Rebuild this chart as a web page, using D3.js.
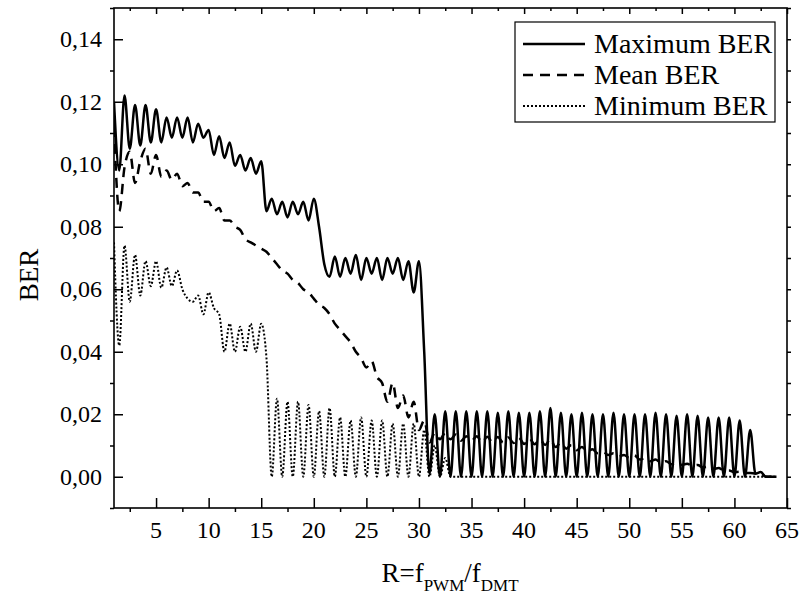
<!DOCTYPE html>
<html>
<head>
<meta charset="utf-8">
<script src="https://cdn.jsdelivr.net/npm/d3@7/dist/d3.min.js"></script>
<style>
  body { margin: 0; background: #fff; }
  svg { display: block; font-family: "Liberation Serif", "Times New Roman", serif; }
</style>
</head>
<body>
<svg id="chart" width="805" height="597"></svg>
<script>
// R = fPWM / fDMT, sampled every half step
var rValues = [
  1, 1.5, 2, 2.5, 3, 3.5, 4, 4.5, 5, 5.5, 6, 6.5, 7, 7.5, 8, 8.5, 9, 9.5, 10, 10.5,
  11, 11.5, 12, 12.5, 13, 13.5, 14, 14.5, 15, 15.5, 16, 16.5, 17, 17.5, 18, 18.5, 19, 19.5, 20, 20.5,
  21, 21.5, 22, 22.5, 23, 23.5, 24, 24.5, 25, 25.5, 26, 26.5, 27, 27.5, 28, 28.5, 29, 29.5, 30, 30.5,
  31, 31.5, 32, 32.5, 33, 33.5, 34, 34.5, 35, 35.5, 36, 36.5, 37, 37.5, 38, 38.5, 39, 39.5, 40, 40.5,
  41, 41.5, 42, 42.5, 43, 43.5, 44, 44.5, 45, 45.5, 46, 46.5, 47, 47.5, 48, 48.5, 49, 49.5, 50, 50.5,
  51, 51.5, 52, 52.5, 53, 53.5, 54, 54.5, 55, 55.5, 56, 56.5, 57, 57.5, 58, 58.5, 59, 59.5, 60, 60.5,
  61, 61.5, 62, 62.5, 63, 63.5, 64
];

var maxBer = [
  0.120, 0.098, 0.122, 0.105, 0.119, 0.106, 0.119, 0.107, 0.1176, 0.107, 0.115, 0.1085, 0.115, 0.1085, 0.115, 0.107, 0.113, 0.1085, 0.111, 0.103,
  0.109, 0.102, 0.107, 0.0995, 0.103, 0.098, 0.102, 0.097, 0.101, 0.085, 0.089, 0.084, 0.088, 0.083, 0.088, 0.084, 0.088, 0.082, 0.089, 0.080,
  0.068, 0.064, 0.0705, 0.064, 0.070, 0.065, 0.071, 0.063, 0.070, 0.065, 0.070, 0.063, 0.070, 0.065, 0.070, 0.063, 0.069, 0.059, 0.069, 0.040,
  0.001, 0.020, 0.0, 0.021, 0.0, 0.021, 0.0, 0.021, 0.0, 0.021, 0.0, 0.021, 0.0, 0.0205, 0.0, 0.021, 0.0, 0.0205, 0.0, 0.0205,
  0.0, 0.021, 0.0, 0.022, 0.0, 0.0205, 0.0, 0.020, 0.0, 0.0205, 0.0, 0.020, 0.0, 0.020, 0.0, 0.0205, 0.0, 0.020, 0.0, 0.020,
  0.0, 0.020, 0.0, 0.0205, 0.0, 0.020, 0.0, 0.0195, 0.0, 0.020, 0.0, 0.0195, 0.0, 0.019, 0.0, 0.019, 0.0, 0.019, 0.0, 0.018,
  0.0, 0.015, 0.001, 0.0015, 0.0, 0.0, 0.0
];

var meanBer = [
  0.112, 0.085, 0.099, 0.104, 0.094, 0.101, 0.105, 0.097, 0.103, 0.096, 0.098, 0.095, 0.097, 0.093, 0.094, 0.091, 0.091, 0.088, 0.088, 0.085,
  0.086, 0.082, 0.082, 0.080, 0.079, 0.076, 0.075, 0.074, 0.073, 0.072, 0.070, 0.068, 0.066, 0.065, 0.063, 0.062, 0.060, 0.059, 0.057, 0.055,
  0.054, 0.052, 0.049, 0.047, 0.045, 0.043, 0.040, 0.038, 0.035, 0.037, 0.032, 0.030, 0.024, 0.030, 0.022, 0.026, 0.019, 0.024, 0.015, 0.018,
  0.011, 0.014, 0.012, 0.014, 0.012, 0.0135, 0.0115, 0.013, 0.0115, 0.013, 0.011, 0.0128, 0.011, 0.0127, 0.011, 0.0126, 0.0108, 0.0125, 0.0105, 0.0123,
  0.0104, 0.012, 0.0102, 0.012, 0.0095, 0.011, 0.009, 0.0102, 0.0085, 0.0095, 0.008, 0.0088, 0.0075, 0.008, 0.007, 0.0075, 0.0065, 0.007, 0.006, 0.0068,
  0.0055, 0.006, 0.005, 0.0055, 0.0045, 0.005, 0.004, 0.0045, 0.0038, 0.0042, 0.0035, 0.0038, 0.003, 0.0032, 0.0025, 0.0028, 0.002, 0.002, 0.0015, 0.0016,
  0.0012, 0.0012, 0.001, 0.001, 0.0, 0.0, 0.0
];

var minBer = [
  0.075, 0.042, 0.074, 0.056, 0.071, 0.058, 0.069, 0.061, 0.069, 0.0605, 0.067, 0.061, 0.066, 0.060, 0.057, 0.056, 0.058, 0.052, 0.059, 0.054,
  0.052, 0.040, 0.049, 0.040, 0.048, 0.040, 0.049, 0.040, 0.049, 0.038, 0.0, 0.025, 0.0, 0.024, 0.0, 0.024, 0.0, 0.023, 0.0, 0.021,
  0.0, 0.022, 0.0, 0.019, 0.0, 0.018, 0.0, 0.019, 0.0, 0.018, 0.0, 0.018, 0.0, 0.017, 0.0, 0.017, 0.0, 0.017, 0.0, 0.015,
  0.0, 0.010, 0.0, 0.006, 0.0, 0.0, 0.0, 0.0, 0.0, 0.0, 0.0, 0.0, 0.0, 0.0, 0.0, 0.0, 0.0, 0.0, 0.0, 0.0,
  0.0, 0.0, 0.0, 0.0, 0.0, 0.0, 0.0, 0.0, 0.0, 0.0, 0.0, 0.0, 0.0, 0.0, 0.0, 0.0, 0.0, 0.0, 0.0, 0.0,
  0.0, 0.0, 0.0, 0.0, 0.0, 0.0, 0.0, 0.0, 0.0, 0.0, 0.0, 0.0, 0.0, 0.0, 0.0, 0.0, 0.0, 0.0, 0.0, 0.0,
  0.0, 0.0, 0.0, 0.0, 0.0, 0.0, 0.0
];

var xTicks = [5, 10, 15, 20, 25, 30, 35, 40, 45, 50, 55, 60, 65];
var yTicks = [0, 0.02, 0.04, 0.06, 0.08, 0.10, 0.12, 0.14];
var seriesNames = ["Maximum BER", "Mean BER", "Minimum BER"];

var plotLeft = 114, plotRight = 787, plotTop = 8, plotBottom = 508;

var x = d3.scaleLinear().domain([1, 65]).range([plotLeft, plotRight]);
var y = d3.scaleLinear().domain([-0.01, 0.15]).range([plotBottom, plotTop]);

var svg = d3.select("#chart");
var fmt = function (d) { return d3.format(".2f")(d).replace(".", ","); };

svg.append("clipPath").attr("id", "plot-clip")
    .append("rect")
    .attr("x", plotLeft).attr("y", plotTop)
    .attr("width", plotRight - plotLeft).attr("height", plotBottom - plotTop);

// series
var series = [
    { values: maxBer, width: 2.5, dash: null },
    { values: meanBer, width: 2.5, dash: "10,7" },
    { values: minBer, width: 2, dash: "2,2" }
];

var line = d3.line()
    .curve(d3.curveMonotoneX)
    .x(function (d) { return x(d[0]); })
    .y(function (d) { return y(d[1]); });

var plot = svg.append("g").attr("clip-path", "url(#plot-clip)");

series.forEach(function (s) {
    plot.append("path")
        .datum(rValues.map(function (r, i) { return [r, s.values[i]]; }))
        .attr("d", line)
        .attr("fill", "none")
        .attr("stroke", "#000")
        .attr("stroke-width", s.width)
        .attr("stroke-linejoin", "round")
        .attr("stroke-dasharray", s.dash);
});

// axes: major ticks point inward, minor ticks outward
var xMinor = d3.range(2.5, 65, 5);
var yMinor = d3.range(-0.01, 0.151, 0.02);

var bottomMajor = svg.append("g")
    .attr("transform", "translate(0," + plotBottom + ")")
    .call(d3.axisTop(x).tickValues(xTicks).tickSize(10).tickFormat(""));
var bottomMinor = svg.append("g")
    .attr("transform", "translate(0," + plotBottom + ")")
    .call(d3.axisBottom(x).tickValues(xMinor).tickSize(4).tickFormat(""));
var topMajor = svg.append("g")
    .attr("transform", "translate(0," + plotTop + ")")
    .call(d3.axisBottom(x).tickValues(xTicks).tickSize(6).tickFormat(""));
var topMinor = svg.append("g")
    .attr("transform", "translate(0," + plotTop + ")")
    .call(d3.axisBottom(x).tickValues(xMinor).tickSize(3).tickFormat(""));

var leftMajor = svg.append("g")
    .attr("transform", "translate(" + plotLeft + ",0)")
    .call(d3.axisRight(y).tickValues(yTicks).tickSize(9).tickFormat(""));
var leftMinor = svg.append("g")
    .attr("transform", "translate(" + plotLeft + ",0)")
    .call(d3.axisLeft(y).tickValues(yMinor).tickSize(4).tickFormat(""));
var rightTicks = svg.append("g")
    .attr("transform", "translate(" + plotRight + ",0)")
    .call(d3.axisRight(y).tickValues(yTicks.concat(yMinor)).tickSize(4).tickFormat(""));

[bottomMajor, bottomMinor, topMajor, topMinor, leftMajor, leftMinor, rightTicks].forEach(function (g) {
    g.select(".domain").remove();
    g.selectAll(".tick line").attr("stroke", "#000").attr("stroke-width", 1.5);
});

// frame
svg.append("rect")
    .attr("x", plotLeft).attr("y", plotTop)
    .attr("width", plotRight - plotLeft).attr("height", plotBottom - plotTop)
    .attr("fill", "none")
    .attr("stroke", "#000")
    .attr("stroke-width", 1.6);

// tick labels
svg.append("g").selectAll("text")
    .data(xTicks)
    .enter().append("text")
    .attr("x", function (d) { return x(d); })
    .attr("y", 538)
    .attr("text-anchor", "middle")
    .style("font-size", "24px")
    .text(function (d) { return d; });

svg.append("g").selectAll("text")
    .data(yTicks)
    .enter().append("text")
    .attr("x", 102)
    .attr("y", function (d) { return y(d) + 8; })
    .attr("text-anchor", "end")
    .style("font-size", "24px")
    .text(fmt);

// axis titles
svg.append("text")
    .attr("transform", "translate(38,275) rotate(-90)")
    .attr("text-anchor", "middle")
    .style("font-size", "27px")
    .text("BER");

var xt = svg.append("text")
    .attr("x", 450)
    .attr("y", 582)
    .attr("text-anchor", "middle")
    .style("font-size", "27px");
xt.append("tspan").text("R=f");
xt.append("tspan").attr("dy", 9).style("font-size", "17px").text("PWM");
xt.append("tspan").attr("dy", -9).text("/f");
xt.append("tspan").attr("dy", 9).style("font-size", "17px").text("DMT");

// legend
var legend = svg.append("g");
legend.append("rect")
    .attr("x", 515).attr("y", 22)
    .attr("width", 260).attr("height", 100)
    .attr("fill", "#fff")
    .attr("stroke", "#000")
    .attr("stroke-width", 1.2);

var legendRows = [44, 75, 106];
seriesNames.forEach(function (name, i) {
    legend.append("line")
        .attr("x1", 523).attr("x2", 585)
        .attr("y1", legendRows[i]).attr("y2", legendRows[i])
        .attr("stroke", "#000")
        .attr("stroke-width", series[i].width)
        .attr("stroke-dasharray", series[i].dash);
    legend.append("text")
        .attr("x", 594)
        .attr("y", legendRows[i] + 9)
        .style("font-size", "28px")
        .text(name);
});
</script>
</body>
</html>
